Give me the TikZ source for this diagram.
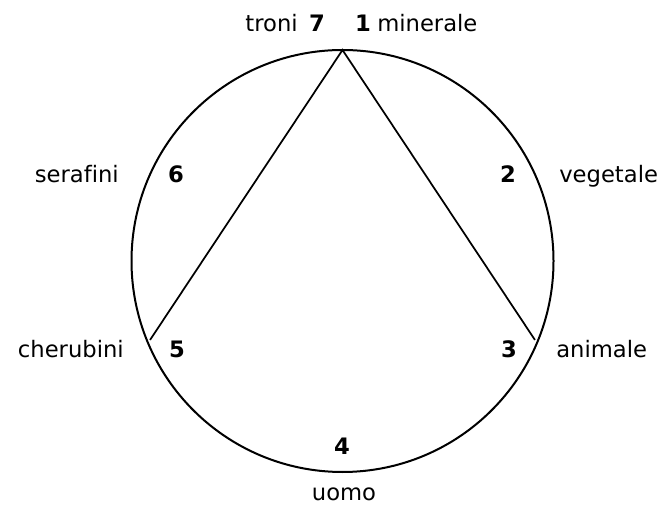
\documentclass[tikz,border=0pt]{standalone}
\usepackage{fontspec}
\setmainfont[Ligatures=NoCommon]{DejaVu Sans}
\usetikzlibrary{calc}
\begin{document}
\begin{tikzpicture}[x=0.75pt,y=0.75pt,
  word/.style={inner sep=0pt,font=\fontsize{17}{20}\selectfont},
  num/.style={inner sep=0pt,font=\fontsize{17}{20}\selectfont\bfseries}]
\useasboundingbox (0,0) rectangle (666,506);
\coordinate (c) at (342.5,245);
\draw[line width=1.5pt] (c) circle (211);

\coordinate (top) at ($(c)+(90:211)$);
\coordinate (left) at ($(c)+(202.3:208)$);
\coordinate (right) at ($(c)+(-22.3:208)$);
\draw[line width=1.3pt] (left) -- (top) -- (right);

\node[word,anchor=base east] (troni) at (298,474) {troni};
\node[num,anchor=base] (n7) at (317,474) {7};
\node[num,anchor=base] (n1) at (363,474) {1};
\node[word,anchor=base west] (minerale) at (377,474) {minerale};

\node[word,anchor=base east] (serafini) at (119,323) {serafini};
\node[num,anchor=base] (n6) at (176,323) {6};
\node[num,anchor=base] (n2) at (508,323) {2};
\node[word,anchor=base west] (vegetale) at (559,323) {vegetale};

\node[word,anchor=base east] (cherubini) at (124,148) {cherubini};
\node[num,anchor=base] (n5) at (177,148) {5};
\node[num,anchor=base] (n3) at (509,148) {3};
\node[word,anchor=base west] (animale) at (556,148) {animale};

\node[num,anchor=base] (n4) at (342,51) {4};
\node[word,anchor=base] (uomo) at (344,6) {uomo};
\end{tikzpicture}
\end{document}
